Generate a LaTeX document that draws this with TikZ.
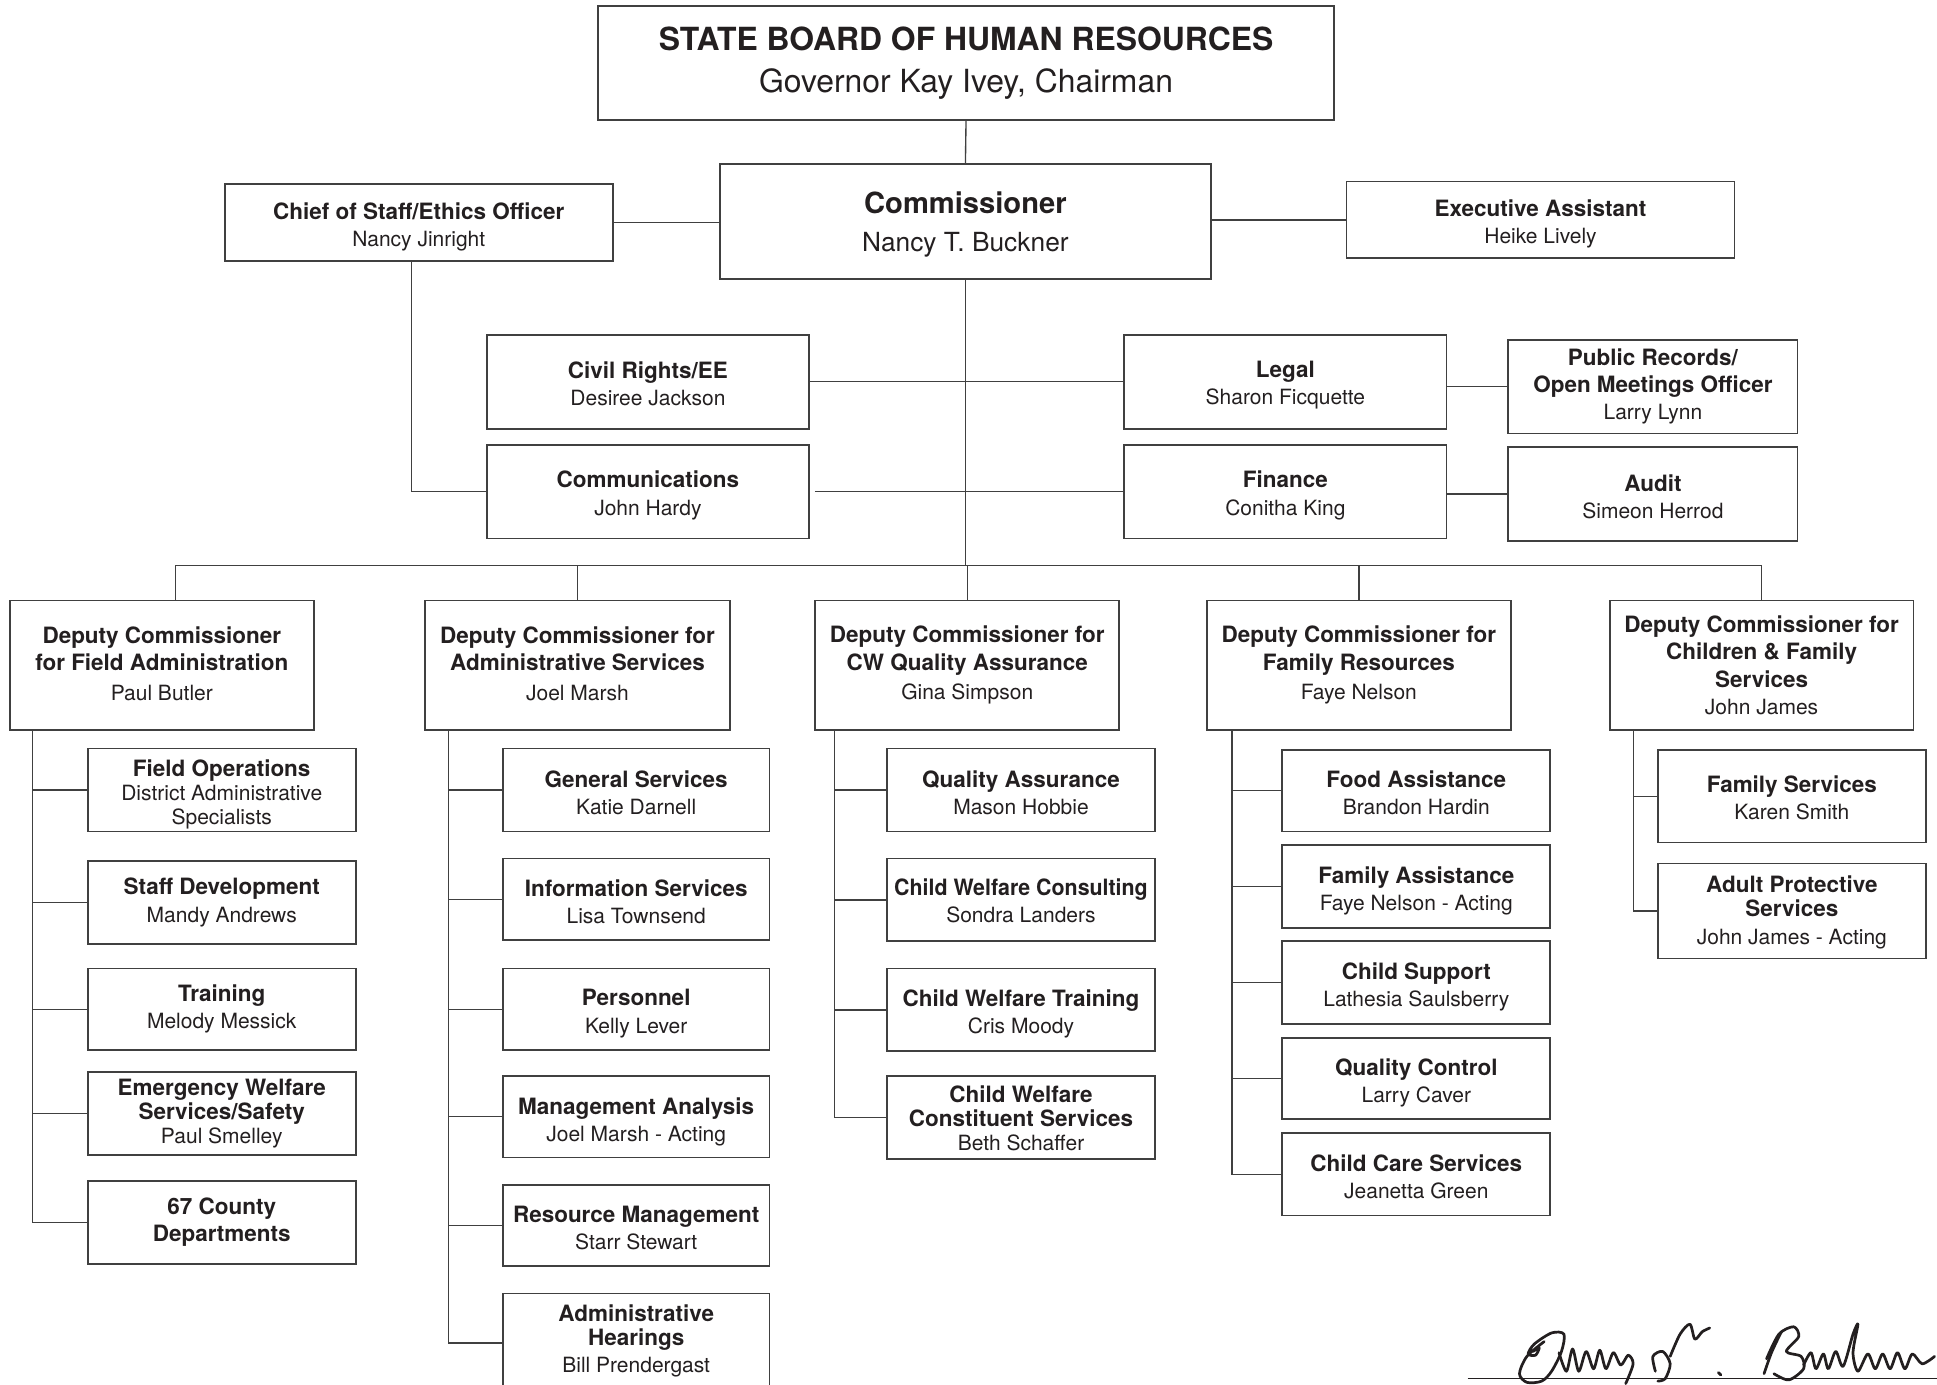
\documentclass[tikz,border=0pt]{standalone}
\usepackage{fontspec}
\setmainfont{TeX Gyre Heros}
\usepackage{graphicx}
\definecolor{ink}{HTML}{231F20}
\definecolor{rulec}{HTML}{404040}
\tikzset{
  orgbox/.style={draw=rulec, line width=1.4pt, inner sep=0pt},
  txt/.style={inner sep=0pt, align=center, text=ink, font=\fontsize{17}{22}\selectfont, yshift=-2pt},
  link/.style={draw=rulec, line width=1.1pt},
  sig/.style={draw=ink, line width=2.2pt, line cap=round, line join=round},
  titlebox/.style={font=\fontsize{25.8}{34}\selectfont},
  commbox/.style={font=\fontsize{21.3}{31}\selectfont},
}
\newcommand\hd[1]{{\fontsize{18.2}{22}\selectfont\bfseries #1}}
\newcommand\bx[7]{\node[orgbox,minimum width={(#5-#3)*1pt},minimum height={(#6-#4)*1pt}] (#2) at ({(#3+#5)/2},{(#4+#6)/2}) {};
  \node[txt,#1] (#2t) at (#2.center) {#7};}
\begin{document}
\begin{tikzpicture}[x=1pt,y=-1pt]
\useasboundingbox (0,0) rectangle (1568,1121);
% top
\bx{titlebox,yshift=2pt}{board}{484}{5}{1080}{97}{\textbf{STATE BOARD OF HUMAN RESOURCES}\\Governor Kay Ivey, Chairman}
\bx{commbox}{comm}{583}{133}{980}{226}{{\fontsize{23.6}{31}\selectfont\bfseries Commissioner}\\Nancy T. Buckner}
\bx{yshift=-2pt}{chief}{182}{149}{496}{211}{\hd{Chief of Staff/Ethics Officer}\\Nancy Jinright}
\bx{yshift=-1pt}{exec}{1090}{147}{1404}{209}{\hd{Executive Assistant}\\Heike Lively}
\bx{}{civ}{394}{271}{655}{347}{\hd{Civil Rights/EE}\\Desiree Jackson}
\bx{yshift=-1pt}{comms}{394}{360}{655}{436}{\hd{Communications}\\John Hardy}
\bx{yshift=-1pt}{legal}{910}{271}{1171}{347}{\hd{Legal}\\Sharon Ficquette}
\bx{yshift=-1pt}{fin}{910}{360}{1171}{436}{\hd{Finance}\\Conitha King}
\bx{yshift=2pt}{pub}{1221}{275}{1455}{351}{\hd{Public Records/}\\\hd{Open Meetings Officer}\\Larry Lynn}
\bx{}{audit}{1221}{362}{1455}{438}{\hd{Audit}\\Simeon Herrod}
% deputies
\bx{yshift=3pt}{d1}{8}{486}{254}{591}{\hd{Deputy Commissioner}\\\hd{for Field Administration}\\[2pt]Paul Butler}
\bx{yshift=3pt}{d2}{344}{486}{591}{591}{\hd{Deputy Commissioner for}\\\hd{Administrative Services}\\[2pt]Joel Marsh}
\bx{yshift=2pt}{d3}{660}{486}{906}{591}{\hd{Deputy Commissioner for}\\\hd{CW Quality Assurance}\\[2pt]Gina Simpson}
\bx{yshift=2pt}{d4}{977}{486}{1223}{591}{\hd{Deputy Commissioner for}\\\hd{Family Resources}\\[2pt]Faye Nelson}
\bx{yshift=2pt}{d5}{1303}{486}{1549}{591}{\hd{Deputy Commissioner for}\\\hd{Children \& Family}\\\hd{Services}\\John James}
% column 1
\bx{yshift=-1.5pt}{fo}{71}{606}{288}{673}{\hd{Field Operations}\\[-2.5pt]District Administrative\\[-2.5pt]Specialists}
\bx{yshift=2pt}{sd}{71}{697}{288}{764}{\hd{Staff Development}\\Mandy Andrews}
\bx{yshift=2pt}{tr}{71}{784}{288}{850}{\hd{Training}\\Melody Messick}
\bx{yshift=2pt}{ew}{71}{868}{288}{935}{\hd{Emergency Welfare}\\[-2.5pt]\hd{Services/Safety}\\[-2.5pt]Paul Smelley}
\bx{yshift=2pt}{cty}{71}{956}{288}{1023}{\hd{67 County}\\\hd{Departments}}
% column 2
\bx{}{gs}{407}{606}{623}{673}{\hd{General Services}\\Katie Darnell}
\bx{}{is}{407}{695}{623}{761}{\hd{Information Services}\\Lisa Townsend}
\bx{yshift=-1.5pt}{pers}{407}{784}{623}{850}{\hd{Personnel}\\Kelly Lever}
\bx{yshift=-2.5pt}{ma}{407}{871}{623}{937}{\hd{Management Analysis}\\Joel Marsh - Acting}
\bx{}{rm}{407}{959}{623}{1025}{\hd{Resource Management}\\Starr Stewart}
\bx{yshift=3.5pt}{ah}{407}{1047}{623}{1127}{\hd{Administrative}\\[-2pt]\hd{Hearings}\\Bill Prendergast}
% column 3
\bx{}{qa}{718}{606}{935}{673}{\hd{Quality Assurance}\\Mason Hobbie}
\bx{yshift=1pt}{cwc}{718}{695}{935}{762}{\hd{\scalebox{0.95}[1]{Child Welfare Consulting}}\\Sondra Landers}
\bx{yshift=-1.5pt}{cwt}{718}{784}{935}{851}{\hd{Child Welfare Training}\\Cris Moody}
\bx{yshift=1pt}{cwcs}{718}{871}{935}{938}{\hd{Child Welfare}\\[-2.5pt]\hd{Constituent Services}\\[-2.5pt]Beth Schaffer}
% column 4
\bx{}{fa}{1038}{607}{1255}{673}{\hd{Food Assistance}\\Brandon Hardin}
\bx{yshift=-1.5pt}{fam}{1038}{684}{1255}{751}{\hd{Family Assistance}\\Faye Nelson - Acting}
\bx{yshift=-1.5pt}{cs}{1038}{762}{1255}{829}{\hd{Child Support}\\Lathesia Saulsberry}
\bx{yshift=-1.5pt}{qc}{1038}{840}{1255}{906}{\hd{Quality Control}\\Larry Caver}
\bx{}{cc}{1038}{917}{1255}{984}{\hd{Child Care Services}\\Jeanetta Green}
% column 5
\bx{yshift=0.5pt}{fs}{1342}{607}{1559}{682}{\hd{Family Services}\\Karen Smith}
\bx{yshift=1pt}{aps}{1342}{699}{1559}{776}{\hd{Adult Protective}\\[-2.5pt]\hd{Services}\\John James - Acting}
% upper connectors
\draw[link] (board.south) -- (comm.north);
\draw[link] (chief.east) -- (chief.east -| comm.west);
\draw[link] (exec.west -| comm.east) -- (exec.west);
\coordinate (cs0) at ([xshift=-6pt]chief.south);
\draw[link] (cs0) |- (comms.west);
\draw[link] (civ.east) -- (legal.west);
\draw[link] ([xshift=4pt]comms.east) -- (fin.west);
\draw[link] (pub.west -| legal.east) -- (pub.west);
\draw[link] (audit.west -| fin.east) -- (audit.west);
% bus
\coordinate (busc) at (782,458);
\draw[link] (comm.south) -- (comm.south |- busc);
\draw[link] ([xshift=11pt]d1.north) |- (busc) -| (d5.north);
\foreach \n in {d2,d3,d4} \draw[link] (\n.north) -- (\n.north |- busc);
% columns
\coordinate (s1) at ([xshift=19pt]d1.south west);
\draw[link] (s1) |- (cty.west);
\foreach \n in {fo,sd,tr,ew} \draw[link] (\n.west) -- (\n.west -| s1);
\coordinate (s2) at ([xshift=20pt]d2.south west);
\draw[link] (s2) |- (ah.west);
\foreach \n in {gs,is,pers,ma,rm} \draw[link] (\n.west) -- (\n.west -| s2);
\coordinate (s3) at ([xshift=16pt]d3.south west);
\draw[link] (s3) |- (cwcs.west);
\foreach \n in {qa,cwc,cwt} \draw[link] (\n.west) -- (\n.west -| s3);
\coordinate (s4) at ([xshift=21pt]d4.south west);
\draw[link] (s4) |- (cc.west);
\foreach \n in {fa,fam,cs,qc} \draw[link] (\n.west) -- (\n.west -| s4);
\coordinate (s5) at ([xshift=20pt]d5.south west);
\draw[link] (s5) |- (aps.west);
\draw[link] (fs.west) -- (fs.west -| s5);
% signature
\coordinate (sgA) at (1188,1116);
\coordinate (sgB) at (1568,1116);
\draw[draw=ink, line width=1.2pt] (sgA) -- (sgB);
\draw[sig] plot[smooth] coordinates {(1241,1094) (1246,1091) (1243,1097) (1237,1096) (1242,1088) (1256,1079) (1266,1080) (1264,1094) (1256,1110) (1248,1118) (1236,1119) (1230,1112) (1236,1098) (1250,1086)};
\draw[sig] plot[smooth] coordinates {(1262,1095) (1268,1110) (1273,1092) (1278,1110) (1284,1094) (1290,1108) (1295,1093) (1300,1108) (1306,1095) (1312,1105) (1318,1097) (1322,1104) (1316,1120)};
\draw[sig] plot[smooth] coordinates {(1340,1110) (1338,1098) (1346,1094) (1352,1104) (1348,1116) (1342,1118)};
\draw[sig] plot[smooth] coordinates {(1352,1098) (1360,1080) (1368,1072) (1372,1084) (1378,1078) (1384,1075)};
\draw[sig] plot[smooth] coordinates {(1391,1111) (1393,1113)};
\draw[sig] plot[smooth] coordinates {(1428,1112) (1434,1095) (1442,1078)};
\draw[sig] plot[smooth] coordinates {(1430,1100) (1440,1080) (1452,1074) (1456,1082) (1446,1094) (1458,1098) (1460,1108) (1448,1117) (1436,1112)};
\draw[sig] plot[smooth] coordinates {(1460,1105) (1466,1095) (1470,1108) (1476,1096) (1480,1108) (1486,1094) (1492,1106) (1500,1080) (1504,1072) (1500,1095) (1504,1110) (1512,1096) (1518,1108) (1524,1096) (1530,1108) (1536,1095) (1542,1108) (1548,1096) (1556,1104) (1566,1098)};
\end{tikzpicture}
\end{document}
